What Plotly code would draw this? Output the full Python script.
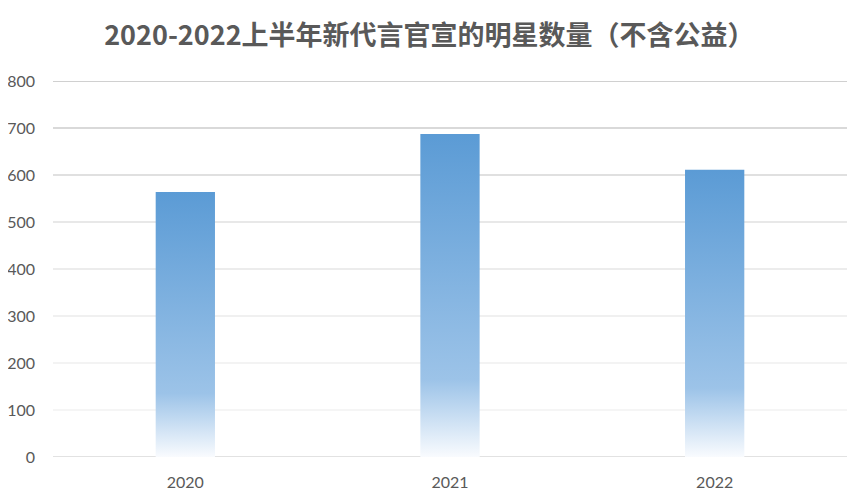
import plotly.graph_objects as go

# data
years = ["2020", "2021", "2022"]
counts = [564, 687, 611]
y_ticks = [0, 100, 200, 300, 400, 500, 600, 700, 800]

bar_half = 0.112
grid_grays = ["#d9d9d9", "#f2f2f2", "#efefef", "#ebebeb", "#e6e6e6",
              "#e0e0e0", "#d6d6d6", "#cccccc", "#c0c0c0"]

fig = go.Figure()

for i, (yr, v) in enumerate(zip(years, counts)):
    fig.add_trace(go.Scatter(
        x=[i - bar_half, i + bar_half, i + bar_half, i - bar_half, i - bar_half],
        y=[0, 0, v, v, 0],
        mode="lines",
        fill="toself",
        line=dict(width=0),
        fillgradient=dict(
            type="vertical",
            colorscale=[[0, "#f9fbfe"], [0.24, "#9cc3e8"], [1, "#5b9bd5"]],
        ),
        name=yr,
        hoverinfo="skip",
        showlegend=False,
    ))

# gridlines drawn as shapes so they can fade like the original
for t, c in zip(y_ticks, grid_grays):
    fig.add_shape(type="line", xref="paper", yref="y", x0=0, x1=1, y0=t, y1=t,
                  line=dict(color=c, width=1.5 if t == 0 else 1.3), layer="below")

# page body has an 8px margin, so the figure is a bit smaller than the window
fig.update_layout(
    width=853, height=492,
    margin=dict(l=45, r=14, t=73, b=43),
    paper_bgcolor="white", plot_bgcolor="white",
    title=dict(text="<b>2020-2022上半年新代言官宣的明星数量（不含公益）</b>",
               x=0.494, xanchor="center", y=0.945, yanchor="middle",
               font=dict(family="Noto Sans CJK SC", size=27, color="#595959")),
    font=dict(family="Lato", size=16, color="#595959"),
    showlegend=False,
)
fig.update_xaxes(range=[-0.5, 2.5], tickvals=list(range(len(years))), ticktext=years,
                 showgrid=False, zeroline=False, showline=False, ticks="",
                 ticklabelstandoff=14, automargin=False, fixedrange=True)
fig.update_yaxes(range=[0, 800], tickvals=y_ticks, showgrid=False, zeroline=False,
                 showline=False, ticks="", ticklabelstandoff=17, automargin=False,
                 fixedrange=True)

fig.write_html("out.html")
